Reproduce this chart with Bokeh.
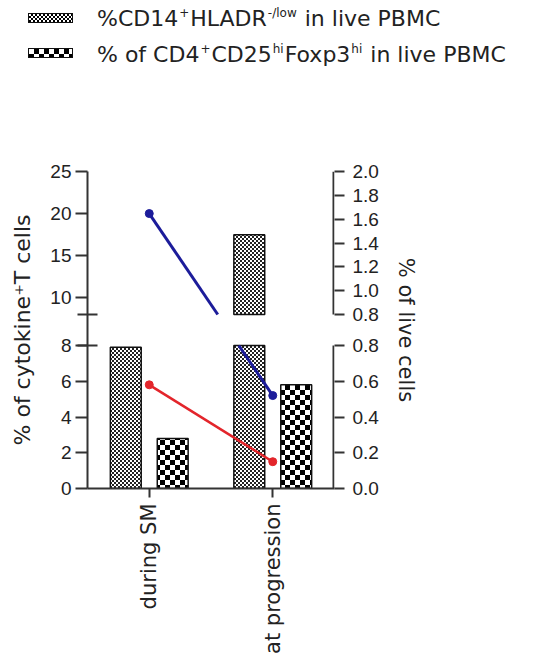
import math
import numpy as np
from bokeh.plotting import figure
from bokeh.models import (Range1d, FactorRange, LinearAxis, FixedTicker, CanvasTexture,
                          ColumnDataSource, Div)
from bokeh.layouts import column
from bokeh.transform import dodge
from bokeh.embed import file_html
from bokeh.resources import INLINE

# ---------------- data ----------------
categories = ["during SM", "at progression"]
cd14_hladr_low = [0.79, 1.47]      # %CD14+HLADR-/low in live PBMC   (right axis)
treg_foxp3 = [0.28, 0.58]          # % of CD4+CD25hiFoxp3hi in live PBMC (right axis)
cytokine_blue = [20.0, 5.2]        # % of cytokine+ T cells (left axis)
cytokine_red = [5.8, 1.5]          # % of cytokine+ T cells (left axis)

left_ticks_lower = [0, 2, 4, 6, 8]
left_ticks_upper = [10, 15, 20, 25]
right_ticks_lower = [0.0, 0.2, 0.4, 0.6, 0.8]
right_ticks_upper = [0.8, 1.0, 1.2, 1.4, 1.6, 1.8, 2.0]

left_lower_seg = (0.0, 8.0)
left_upper_seg = (8.0, 25.0)
right_lower_seg = (0.0, 0.8)
right_upper_seg = (0.8, 2.0)

legend_line_1 = [("%CD14", False), ("+", True), ("HLADR", False), ("-/low", True), (" in live PBMC", False)]
legend_line_2 = [("% of CD4", False), ("+", True), ("CD25", False), ("hi", True),
                 ("Foxp3", False), ("hi", True), (" in live PBMC", False)]

# ---------------- layout geometry ----------------
W, H = 538, 668
LEG_H = 120
FRAME_L, FRAME_R = 87, 334
FRAME_T, FRAME_B = 171, 488
SEG, GAP = 143, 31
FH = FRAME_B - FRAME_T

TXT = "#222222"
AX = "#333333"


def frac(v, lower, upper, on_upper):
    """fraction of frame height (from bottom) on a broken axis"""
    if on_upper:
        return (SEG + GAP + (v - upper[0]) / (upper[1] - upper[0]) * SEG) / FH
    return (v - lower[0]) / (lower[1] - lower[0]) * SEG / FH


def full_end(lower):
    return lower[0] + (lower[1] - lower[0]) * FH / SEG


def upper_start(upper):
    return upper[0] - (SEG + GAP) * (upper[1] - upper[0]) / SEG


YL_END = full_end(left_lower_seg)
YR_END = full_end(right_lower_seg)
EPS = 1e-9

CHECKER_JS = """
const T = %d, c = T / 2;
const cv = ctx.canvas; cv.width = T; cv.height = T;
ctx.setTransform(1, 0, 0, 1, 0, 0);
ctx.fillStyle = '#ffffff'; ctx.fillRect(0, 0, T, T);
ctx.fillStyle = '%s'; ctx.fillRect(0, 0, c, c); ctx.fillRect(c, c, c, c);
"""
fine = CanvasTexture(code=CHECKER_JS % (4, "#222222"))
coarse = CanvasTexture(code=CHECKER_JS % (10, "#000000"))
FINE = dict(fill_color="white", hatch_pattern="dot", hatch_extra={"dot": fine},
            hatch_color="black", hatch_scale=4, line_color="#111111", line_width=1.5)
COARSE = dict(fill_color="white", hatch_pattern="ring", hatch_extra={"ring": coarse},
              hatch_color="black", hatch_scale=10, line_color="#111111", line_width=1.5)

# ---------------- figure ----------------
p = figure(width=W, height=H - LEG_H,
           x_range=FactorRange(factors=categories, range_padding=0),
           y_range=Range1d(0, YL_END + EPS),
           output_backend="svg", toolbar_location=None,
           min_border_left=FRAME_L, min_border_right=W - FRAME_R,
           min_border_top=FRAME_T - LEG_H, min_border_bottom=H - FRAME_B)
p.extra_y_ranges = {
    "right_low": Range1d(0, YR_END + EPS),
    "right_up": Range1d(upper_start(right_upper_seg), right_upper_seg[1] + EPS),
}
p.outline_line_color = None
p.xgrid.visible = False
p.ygrid.visible = False
p.background_fill_color = "white"
p.border_fill_color = "white"

px_per_unit = (FRAME_R - FRAME_L) / len(categories)

# bars (right axis), split across the break
x_cd14 = dodge("cat", -0.19, range=p.x_range)
x_treg = dodge("cat", 0.19, range=p.x_range)
cap = right_lower_seg[1]
low_src = ColumnDataSource(dict(cat=categories,
                                cd14=np.minimum(cd14_hladr_low, cap),
                                treg=np.minimum(treg_foxp3, cap)))
p.vbar(x=x_cd14, top="cd14", bottom=0, width=0.25, source=low_src,
       y_range_name="right_low", **FINE)
p.vbar(x=x_treg, top="treg", bottom=0, width=0.25, source=low_src,
       y_range_name="right_low", **COARSE)
up_cd14 = [(c, v) for c, v in zip(categories, cd14_hladr_low) if v > cap]
up_treg = [(c, v) for c, v in zip(categories, treg_foxp3) if v > cap]
if up_cd14:
    src = ColumnDataSource(dict(cat=[c for c, _ in up_cd14], top=[v for _, v in up_cd14]))
    p.vbar(x=x_cd14, top="top", bottom=right_upper_seg[0], width=0.25, source=src,
           y_range_name="right_up", **FINE)
if up_treg:
    src = ColumnDataSource(dict(cat=[c for c, _ in up_treg], top=[v for _, v in up_treg]))
    p.vbar(x=x_treg, top="top", bottom=right_upper_seg[0], width=0.25, source=src,
           y_range_name="right_up", **COARSE)

# lines (left axis) on the broken scale
GAP_LO = YL_END * SEG / FH
GAP_HI = YL_END * (SEG + GAP) / FH


def left_coord(v):
    return frac(v, left_lower_seg, left_upper_seg, v > left_lower_seg[1]) * YL_END


def clip(x0, u0, x1, u1, lo, hi):
    if u1 == u0:
        return [(x0, u0), (x1, u1)] if lo <= u0 <= hi else None
    ta, tb = (lo - u0) / (u1 - u0), (hi - u0) / (u1 - u0)
    t0, t1 = max(0.0, min(ta, tb)), min(1.0, max(ta, tb))
    if t0 >= t1:
        return None
    return [(x0 + t * (x1 - x0), u0 + t * (u1 - u0)) for t in (t0, t1)]


xc = np.arange(len(categories)) + 0.5
for vals, color, lw in [(cytokine_red, "#e3252b", 2.5), (cytokine_blue, "#1c1c9a", 3)]:
    us = [left_coord(v) for v in vals]
    for i in range(len(us) - 1):
        for lo, hi in [(0, GAP_LO), (GAP_HI, YL_END)]:
            seg = clip(xc[i], us[i], xc[i + 1], us[i + 1], lo, hi)
            if seg:
                p.line([s[0] for s in seg], [s[1] for s in seg], line_color=color, line_width=lw)
    p.scatter(xc, us, size=8, color=color)

# left axis (broken, continuous line)
lt_pos = [frac(t, left_lower_seg, left_upper_seg, False) * YL_END for t in left_ticks_lower] + \
         [frac(t, left_lower_seg, left_upper_seg, True) * YL_END for t in left_ticks_upper]
lt_lab = [str(t) for t in left_ticks_lower + left_ticks_upper]
ya = p.yaxis[0]
ya.ticker = FixedTicker(ticks=lt_pos, minor_ticks=[GAP_LO, GAP_HI])
ya.major_label_overrides = dict(zip(lt_pos, lt_lab))
ya.axis_label = "% of cytokine\u207aT cells"

# right axis (broken, with gap)
rt_pos = [frac(t, right_lower_seg, right_upper_seg, False) * YR_END for t in right_ticks_lower] + \
         [frac(t, right_lower_seg, right_upper_seg, True) * YR_END for t in right_ticks_upper]
rt_lab = [f"{t:.1f}" for t in right_ticks_lower + right_ticks_upper]
ra = LinearAxis(y_range_name="right_low", ticker=FixedTicker(ticks=rt_pos, minor_ticks=[]),
                major_label_overrides=dict(zip(rt_pos, rt_lab)), axis_label="% of live cells")
p.add_layout(ra, "right")

for ax in (ya, ra):
    ax.major_label_text_font = "Liberation Sans"
    ax.major_label_text_font_size = "19px"
    ax.major_label_text_color = TXT
    ax.axis_label_text_font = "DejaVu Sans"
    ax.axis_label_text_font_size = "21px"
    ax.axis_label_text_font_style = "normal"
    ax.axis_label_text_color = TXT
    ax.major_tick_line_color = AX
    ax.major_tick_line_width = 2
    ax.minor_tick_line_color = AX
    ax.minor_tick_line_width = 2
    ax.axis_line_color = AX
    ax.axis_line_width = 2
ya.axis_label_text_font_size = "22px"
ya.major_tick_out = 12
ya.major_tick_in = 0
ya.minor_tick_out = 10
ya.minor_tick_in = 10
ya.major_label_standoff = 4
ya.axis_label_standoff = 12
ra.major_tick_out = 10
ra.major_tick_in = 0
ra.minor_tick_out = 0
ra.minor_tick_in = 0
ra.major_label_standoff = 8
ra.axis_label_standoff = 12
ra.axis_line_color = None

# right axis line drawn in two pieces (gap at the break)
xe = len(categories) - 1.0 / px_per_unit
r_up_lo = frac(right_upper_seg[0], right_lower_seg, right_upper_seg, True) * YR_END
p.segment(x0=[xe, xe], y0=[0, r_up_lo], x1=[xe, xe], y1=[right_lower_seg[1], YR_END],
          y_range_name="right_low", line_color=AX, line_width=2)

xa = p.xaxis[0]
xa.major_label_orientation = math.pi / 2
xa.major_label_text_font = "DejaVu Sans"
xa.major_label_text_font_size = "21px"
xa.major_label_text_color = TXT
xa.major_label_standoff = 6
xa.major_tick_out = 9
xa.major_tick_in = 0
xa.major_tick_line_color = AX
xa.major_tick_line_width = 2
xa.axis_line_color = AX
xa.axis_line_width = 2

# ---------------- legend (patterned swatches + text with superscripts) ----------------
def swatch(top, tile):
    return (f'<span style="position:absolute;left:28px;top:{top}px;width:45px;height:10px;'
            f'box-sizing:border-box;border:1px solid #111;background-color:#fff;'
            f'background-image:repeating-conic-gradient(#000 0% 25%, #fff 0% 50%);'
            f'background-size:{tile}px {tile}px;"></span>')


def legend_text(pieces, top):
    html = ""
    for s, sup in pieces:
        s = s.replace(" ", "&nbsp;") if s.startswith(" ") else s
        if sup:
            html += (f'<span style="font-size:12px;position:relative;top:-9px;'
                     f'margin:0 1px;">{s}</span>')
        else:
            html += s
    return (f'<span style="position:absolute;left:97px;top:{top}px;white-space:nowrap;'
            f'font-family:\'DejaVu Sans\';font-size:22px;line-height:22px;color:{TXT};">'
            f'{html}</span>')


legend_html = ('<div style="position:relative;width:538px;height:120px;margin:0;padding:0;">'
               + swatch(13, 4) + swatch(48, 10)
               + legend_text(legend_line_1, 8) + legend_text(legend_line_2, 44)
               + '</div>')
leg = Div(text=legend_html, width=W, height=LEG_H, margin=0)

layout = column(leg, p, spacing=0)
open("out.html", "w").write(file_html(layout, INLINE))
